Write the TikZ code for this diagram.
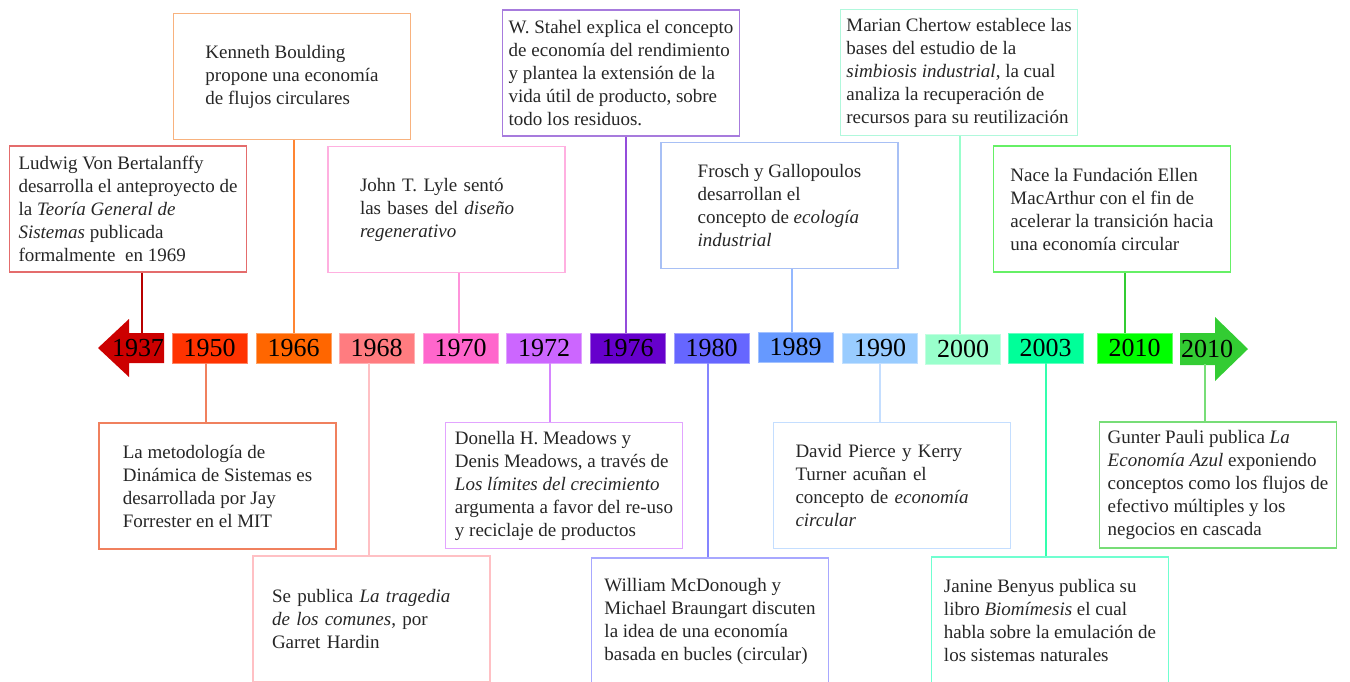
\documentclass[tikz,border=0pt]{standalone}
\usepackage{fontspec}
\setmainfont{Liberation Serif}
\usetikzlibrary{calc}

% colores de los anios
\definecolor{c1937}{HTML}{CC0000}
\definecolor{c1950}{HTML}{FF3300}
\definecolor{c1966}{HTML}{FF6600}
\definecolor{c1968}{HTML}{FF7C80}
\definecolor{c1970}{HTML}{FF66CC}
\definecolor{c1972}{HTML}{CC66FF}
\definecolor{c1976}{HTML}{6600CC}
\definecolor{c1980}{HTML}{6666FF}
\definecolor{c1989}{HTML}{6699FF}
\definecolor{c1990}{HTML}{99CCFF}
\definecolor{c2000}{HTML}{99FFCC}
\definecolor{c2003}{HTML}{00FF99}
\definecolor{c2010}{HTML}{00FF00}
\definecolor{c2010b}{HTML}{33CC33}
% bordes de los hitos
\definecolor{bBert}{HTML}{E46C6C}
\definecolor{bBould}{HTML}{F8B27E}
\definecolor{bLyle}{HTML}{FFB0E0}
\definecolor{bStahel}{HTML}{A77BDD}
\definecolor{bFrosch}{HTML}{A8C0F5}
\definecolor{bChert}{HTML}{B0F8DC}
\definecolor{bMac}{HTML}{66F066}
\definecolor{bDin}{HTML}{F0805E}
\definecolor{bHard}{HTML}{FFC0C4}
\definecolor{bMead}{HTML}{E2A4FF}
\definecolor{bMcD}{HTML}{A8A8FF}
\definecolor{bPier}{HTML}{C4DEFF}
\definecolor{bBeny}{HTML}{70FFD0}
\definecolor{bPauli}{HTML}{77DD77}
\definecolor{tinta}{HTML}{262626}

\tikzset{ anio/.style = { rectangle
                        , inner sep      = 0pt
                        , minimum width  = 37.5pt
                        , minimum height = 15pt
                        , font = \fontsize{13}{15}\selectfont
                        },
          hito/.style = { rectangle
                        , draw
                        , line width     = 0.7pt
                        , inner sep      = 2pt
                        , minimum width  = 118.5pt
                        , minimum height = 63pt
                        , align          = left
                        , text           = tinta
                        , font = \fontsize{9.5}{11.5}\selectfont
                        },
          enlace/.style = { line width = 1pt }
        }

\begin{document}
\begin{tikzpicture}[x=0.5pt, y=-0.5pt]
    \useasboundingbox (0,0) rectangle (1350,681);

    % flechas de los extremos
    \fill[c1937]  (164,333) -- (129,333) -- (129,319) -- (98,348)
                  -- (129,377) -- (129,363) -- (164,363) -- cycle;
    \fill[c2010b] (1180,333) -- (1215,333) -- (1215,317) -- (1248,349)
                  -- (1215,381) -- (1215,365) -- (1180,365) -- cycle;

    % linea de tiempo
    \node[anio] (a1937) at (138,348) {1937};
    \node[anio, fill=c1950, draw=c1950!60] (a1950) at (209.5,348) {1950};
    \node[anio, fill=c1966, draw=c1966!60] (a1966) at (293.5,348) {1966};
    \node[anio, fill=c1968, draw=c1968!60] (a1968) at (376.5,348) {1968};
    \node[anio, fill=c1970, draw=c1970!60] (a1970) at (460.5,348) {1970};
    \node[anio, fill=c1972, draw=c1972!60] (a1972) at (544,348) {1972};
    \node[anio, fill=c1976, draw=c1976!60] (a1976) at (627.5,348) {1976};
    \node[anio, fill=c1980, draw=c1980!60] (a1980) at (711.5,348) {1980};
    \node[anio, fill=c1989, draw=c1989!60] (a1989) at (795.5,347) {1989};
    \node[anio, fill=c1990, draw=c1990!60] (a1990) at (880,348) {1990};
    \node[anio, fill=c2000, draw=c2000!60] (a2000) at (963,349) {2000};
    \node[anio, fill=c2003, draw=c2003!60] (a2003) at (1045.5,348) {2003};
    \node[anio, fill=c2010, draw=c2010!60] (a2010) at (1134.5,348) {2010};
    \node[anio] (a2010b) at (1207,349) {2010};

    % hitos arriba
    \node[hito, draw=bBert] (bert) at (128,209)
        {Ludwig Von Bertalanffy\\ desarrolla el anteproyecto de\\
         la \textit{Teoría General de}\\ \textit{Sistemas} publicada\\
         formalmente\ \ en 1969};
    \node[hito, draw=bBould] (boulding) at (292,76.5)
        {Kenneth Boulding\\ propone una economía\\ de flujos circulares};
    \node[hito, draw=bLyle, text width=86.5pt] (lyle) at (446.5,209.5)
        {John T. Lyle sentó\\ las bases del \textit{diseño}\\ \textit{regenerativo}};
    \node[hito, draw=bStahel] (stahel) at (621,73)
        {W. Stahel explica el concepto\\ de economía del rendimiento\\
         y plantea la extensión de la\\ vida útil de producto, sobre\\
         todo los residuos.};
    \node[hito, draw=bFrosch] (frosch) at (779.5,205.5)
        {Frosch y Gallopoulos\\ desarrollan el\\ concepto de \textit{ecología}\\
         \textit{industrial}};
    \node[hito, draw=bChert] (chertow) at (959,72.5)
        {Marian Chertow establece las\\ bases del estudio de la\\
         \textit{simbiosis industrial}, la cual\\ analiza la recuperación de\\
         recursos para su reutilización};
    \node[hito, draw=bMac] (macarthur) at (1112,209)
        {Nace la Fundación Ellen\\ MacArthur con el fin de\\
         acelerar la transición hacia\\ una economía circular};

    % hitos abajo
    \node[hito, draw=bDin] (dinamica) at (217.5,486)
        {La metodología de\\ Dinámica de Sistemas es\\ desarrollada por Jay\\
         Forrester en el MIT};
    \node[hito, draw=bHard, text width=99.5pt] (hardin) at (371.5,619)
        {Se publica \textit{La tragedia}\\ \textit{de los comunes}, por\\ Garret Hardin};
    \node[hito, draw=bMead] (meadows) at (564,485.5)
        {Donella H. Meadows y\\ Denis Meadows, a través de\\
         \textit{Los límites del crecimiento}\\ argumenta a favor del re-uso\\
         y reciclaje de productos};
    \node[hito, draw=bMcD] (mcdonough) at (710,621)
        {William McDonough y\\ Michael Braungart discuten\\
         la idea de una economía\\ basada en bucles (circular)};
    \node[hito, draw=bPier, text width=96.5pt] (pierce) at (892,485.5)
        {David Pierce y Kerry\\ Turner acuñan el\\ concepto de \textit{economía}\\
         \textit{circular}};
    \node[hito, draw=bBeny] (benyus) at (1050,620)
        {Janine Benyus publica su\\ libro \textit{Biomímesis} el cual\\
         habla sobre la emulación de\\ los sistemas naturales};
    \node[hito, draw=bPauli] (pauli) at (1218,485)
        {Gunter Pauli publica \textit{La}\\ \textit{Economía Azul} exponiendo\\
         conceptos como los flujos de\\ efectivo múltiples y los\\
         negocios en cascada};

    % enlaces
    \draw[enlace, c1937!90!black] ([xshift=2pt]a1937.north) -- ([xshift=2pt]a1937.north |- bert.south);
    \draw[enlace, bDin]           ([xshift=-2pt]a1950.south) -- ([xshift=-2pt]a1950.south |- dinamica.north);
    \draw[enlace, c1966!80]       (a1966.north) -- (a1966.north |- boulding.south);
    \draw[enlace, bHard]          ([xshift=-4pt]a1968.south) -- ([xshift=-4pt]a1968.south |- hardin.north);
    \draw[enlace, c1970!70]       ([xshift=-1pt]a1970.north) -- ([xshift=-1pt]a1970.north |- lyle.south);
    \draw[enlace, c1972!80]       ([xshift=3pt]a1972.south) -- ([xshift=3pt]a1972.south |- meadows.north);
    \draw[enlace, c1976!70!white] ([xshift=-1pt]a1976.north) -- ([xshift=-1pt]a1976.north |- stahel.south);
    \draw[enlace, c1980!80]       ([xshift=-2pt]a1980.south) -- ([xshift=-2pt]a1980.south |- mcdonough.north);
    \draw[enlace, c1989!70]       ([xshift=-2pt]a1989.north) -- ([xshift=-2pt]a1989.north |- frosch.south);
    \draw[enlace, bPier]          (a1990.south) -- (a1990.south |- pierce.north);
    \draw[enlace, c2000]          ([xshift=-1.5pt]a2000.north) -- ([xshift=-1.5pt]a2000.north |- chertow.south);
    \draw[enlace, c2003!80]       (a2003.south) -- (a2003.south |- benyus.north);
    \draw[enlace, c2010b]         ([xshift=-5pt]a2010.north) -- ([xshift=-5pt]a2010.north |- macarthur.south);
    \draw[enlace, bPauli]         ([xshift=-1pt]a2010b.south) -- ([xshift=-1pt]a2010b.south |- pauli.north);
\end{tikzpicture}
\end{document}
